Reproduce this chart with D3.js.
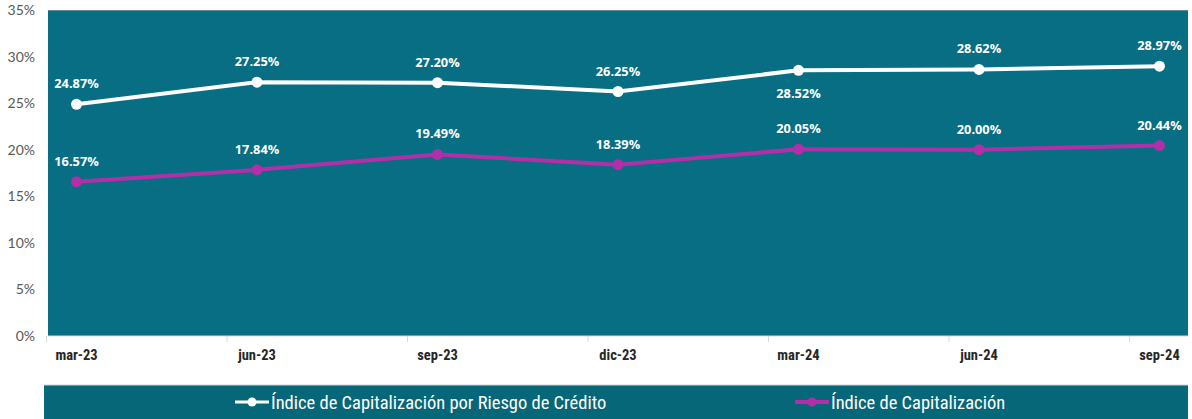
<!DOCTYPE html>
<html>
<head>
<meta charset="utf-8">
<script src="https://cdn.jsdelivr.net/npm/d3@7"></script>
<style>
  body { margin: 0; background: #fff; }
  svg { display: block; }
</style>
</head>
<body>
<svg id="chart"></svg>
<script>
const periods = ['mar-23', 'jun-23', 'sep-23', 'dic-23', 'mar-24', 'jun-24', 'sep-24']
const riesgoCredito = [24.87, 27.25, 27.20, 26.25, 28.52, 28.62, 28.97]
const capitalizacion = [16.57, 17.84, 19.49, 18.39, 20.05, 20.00, 20.44]
const yTicks = [0, 5, 10, 15, 20, 25, 30, 35]
const seriesNames = ['Índice de Capitalización por Riesgo de Crédito', 'Índice de Capitalización']
// label below the point for these indexes (first series)
const labelBelow = [4]

const width = 1192
const height = 419
const margin = { top: 10, left: 48, right: 4, bottom: 83 }
const plotW = width - margin.left - margin.right
const plotH = height - margin.top - margin.bottom

const svg = d3.select('#chart').attr('width', width).attr('height', height)

const xScale = d3.scalePoint().domain(periods).range([0, plotW]).padding(0.158)
const yScale = d3.scaleLinear().domain([0, 35]).range([plotH, 0])

const body = svg.append('g').attr('transform', `translate(${margin.left},${margin.top})`)

body.append('rect')
  .attr('width', plotW).attr('height', plotH)
  .attr('fill', '#076e83')
body.append('line')
  .attr('x1', 0).attr('x2', plotW).attr('y1', 0.5).attr('y2', 0.5)
  .attr('stroke', '#5a8a96').attr('stroke-width', 1)

// y axis labels
const axisY = d3.axisLeft(yScale).tickValues(yTicks).tickFormat(d => d + '%').tickSize(0).tickPadding(13)
body.append('g').call(axisY)
  .call(g => g.select('.domain').remove())
  .selectAll('text')
  .style('font-family', 'Lato, "Open Sans", sans-serif')
  .style('font-size', '14px')
  .attr('fill', '#595959')

// x axis
const axisG = body.append('g').attr('transform', `translate(0,${plotH})`)
axisG.append('line').attr('x1', 0).attr('x2', plotW).attr('stroke', '#d9d9d9')
axisG.selectAll('.tk').data(periods).enter().append('line')
  .attr('x1', d => xScale(d) - 30).attr('x2', d => xScale(d) - 30)
  .attr('y1', 0).attr('y2', 6).attr('stroke', '#d9d9d9')
axisG.selectAll('.lbl').data(periods).enter().append('text')
  .attr('x', d => xScale(d)).attr('y', 24)
  .attr('text-anchor', 'middle')
  .style('font-family', '"Liberation Sans Narrow", "Roboto Condensed", "Arial Narrow", sans-serif')
  .style('font-weight', 'bold')
  .style('font-size', '14.5px')
  .attr('fill', '#262626')
  .text(d => d)

const series = [
  { values: riesgoCredito, color: '#ffffff' },
  { values: capitalizacion, color: '#b22fa8' }
]
const line = d3.line().x((d, i) => xScale(periods[i])).y(d => yScale(d))

series.forEach((s, si) => {
  body.append('path')
    .attr('d', line(s.values))
    .attr('fill', 'none').attr('stroke', s.color).attr('stroke-width', 4)
  body.selectAll('.pt' + si).data(s.values).enter().append('circle')
    .attr('cx', (d, i) => xScale(periods[i])).attr('cy', d => yScale(d))
    .attr('r', 5.5).attr('fill', s.color)
  body.selectAll('.lb' + si).data(s.values).enter().append('text')
    .attr('x', (d, i) => xScale(periods[i]))
    .attr('y', (d, i) => yScale(d) + (si === 0 && labelBelow.includes(i) ? 28 : -16))
    .attr('text-anchor', 'middle')
    .style('font-family', '"Open Sans", Lato, sans-serif')
    .style('font-weight', 'bold')
    .style('font-size', '12.8px')
    .attr('fill', '#ffffff')
    .text(d => d.toFixed(2) + '%')
})

// legend
const legend = svg.append('g')
legend.append('rect')
  .attr('x', 44).attr('y', 385).attr('width', width - 44 - 4).attr('height', height - 385)
  .attr('fill', '#066779')
legend.append('line').attr('x1', 44).attr('x2', width - 4).attr('y1', 385).attr('y2', 385).attr('stroke', '#c9d6da')
const legendX = [235, 795]
series.forEach((s, si) => {
  const g = legend.append('g').attr('transform', `translate(${legendX[si]},402)`)
  g.append('line').attr('x1', 0).attr('x2', 34).attr('stroke', s.color).attr('stroke-width', si === 0 ? 3 : 4)
  g.append('circle').attr('cx', 17).attr('r', 4.5).attr('fill', s.color)
  g.append('text').attr('x', 36).attr('y', 6.5)
    .style('font-family', '"Liberation Sans Narrow", "Roboto Condensed", "Arial Narrow", sans-serif')
    .style('font-size', '18.5px')
    .attr('fill', '#ffffff')
    .text(seriesNames[si])
})
</script>
</body>
</html>
